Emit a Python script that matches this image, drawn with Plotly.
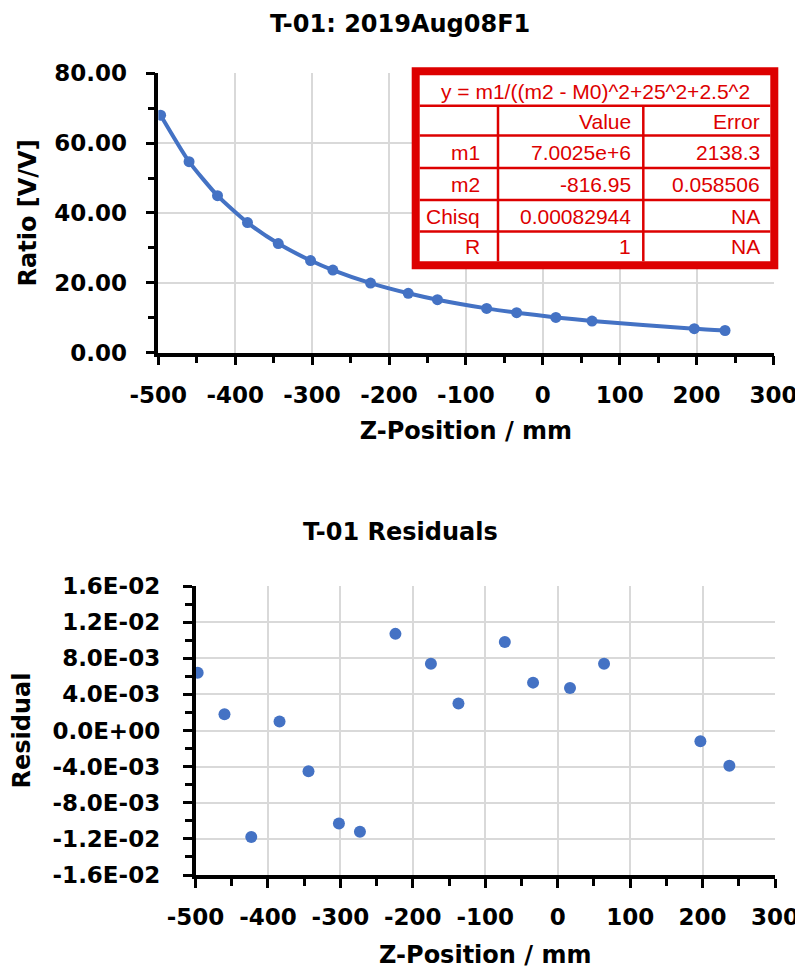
import plotly.graph_objects as go

# ---------------- data ----------------
z_position = [-497, -460, -423, -384, -344, -302, -273, -224, -175, -137, -73, -34, 17, 64, 197, 237]
ratio = [67.99, 54.69, 44.94, 37.23, 31.22, 26.35, 23.62, 19.88, 16.97, 15.13, 12.64, 11.41, 10.06, 9.02, 6.81, 6.30]
residual = [0.0064, 0.0018, -0.0118, 0.0010, -0.0045, -0.0103, -0.0112, 0.0107, 0.0074, 0.0030,
            0.0098, 0.0053, 0.0047, 0.0074, -0.0012, -0.0039]

top_title = "T-01: 2019Aug08F1"
bottom_title = "T-01 Residuals"
x_title = "Z-Position / mm"
top_y_title = "Ratio [V/V]"
bottom_y_title = "Residual"

x_tickvals = [-500, -400, -300, -200, -100, 0, 100, 200, 300]
x_ticktext = ["-500", "-400", "-300", "-200", "-100", "0", "100", "200", "300"]
ratio_tickvals = [0, 20, 40, 60, 80]
ratio_ticktext = ["0.00", "20.00", "40.00", "60.00", "80.00"]
resid_tickvals = [-0.016, -0.012, -0.008, -0.004, 0.0, 0.004, 0.008, 0.012, 0.016]
resid_ticktext = ["-1.6E-02", "-1.2E-02", "-8.0E-03", "-4.0E-03", "0.0E+00",
                  "4.0E-03", "8.0E-03", "1.2E-02", "1.6E-02"]

table_formula = "y = m1/((m2 - M0)^2+25^2+2.5^2"
table_header = ["", "Value", "Error"]
table_params = ["m1", "m2", "Chisq", "R"]
table_values = ["7.0025e+6", "-816.95", "0.00082944", "1"]
table_errors = ["2138.3", "0.058506", "NA", "NA"]

# ---------------- style ----------------
OFF = 8                      # page body margin of the html page
W, H = 803 - OFF, 972 - OFF
BLUE = "#4472C4"
RED = "#dd0000"
GRID = "#d9d9d9"
FONT = "DejaVu Sans"


def fx(px):
    return (px - OFF) / W


def fy(py):
    return 1 - (py - OFF) / H


fig = go.Figure()
fig.add_trace(go.Scatter(
    x=z_position, y=ratio, mode="lines+markers",
    line=dict(color=BLUE, width=4, shape="spline", smoothing=0.6),
    marker=dict(size=11, color=BLUE),
    xaxis="x", yaxis="y", showlegend=False))
fig.add_trace(go.Scatter(
    x=z_position, y=residual, mode="markers",
    marker=dict(size=12, color=BLUE),
    xaxis="x2", yaxis="y2", showlegend=False))

tickfont = dict(family=FONT, size=23, color="black", weight="bold")
titlefont = dict(family=FONT, size=24, color="black", weight="bold")


def axis(**kw):
    d = dict(showline=True, linewidth=3.5, linecolor="black",
             ticks="outside", ticklen=9, tickwidth=3, tickcolor="black",
             showgrid=True, gridcolor=GRID, gridwidth=1.5, zeroline=False,
             tickfont=tickfont, automargin=False, tickangle=0)
    d.update(kw)
    return d


minor_x = dict(dtick=50, tick0=0, ticks="outside", ticklen=7, tickwidth=3, tickcolor="black", showgrid=False)

fig.update_layout(
    width=W, height=H,
    margin=dict(l=0, r=0, t=0, b=0),
    paper_bgcolor="white", plot_bgcolor="white",
    showlegend=False,
    xaxis=axis(domain=[fx(158.3), fx(773.5)], range=[-500, 300],
               tickvals=x_tickvals, ticktext=x_ticktext, ticklabelstandoff=10,
               anchor="y", minor=minor_x,
               title=dict(text=x_title, font=titlefont, standoff=16)),
    yaxis=axis(domain=[fy(352.5), fy(73.3)], range=[0, 80],
               tickvals=ratio_tickvals, ticktext=ratio_ticktext, ticklabelstandoff=14,
               anchor="x",
               minor=dict(dtick=10, tick0=0, ticks="outside", ticklen=7, tickwidth=3, tickcolor="black", showgrid=False),
               title=dict(text=top_y_title, font=titlefont, standoff=12)),
    xaxis2=axis(domain=[fx(195.5), fx(775)], range=[-500, 300],
                tickvals=x_tickvals, ticktext=x_ticktext, ticklabelstandoff=10,
                anchor="y2", minor=minor_x,
                title=dict(text=x_title, font=titlefont, standoff=18)),
    yaxis2=axis(domain=[fy(875), fy(586)], range=[-0.016, 0.016],
                tickvals=resid_tickvals, ticktext=resid_ticktext, ticklabelstandoff=18,
                anchor="x2",
                minor=dict(dtick=0.002, tick0=0, ticks="outside", ticklen=7, tickwidth=3, tickcolor="black", showgrid=False),
                title=dict(text=bottom_y_title, font=titlefont, standoff=20)),
)

annotations = [
    dict(text=top_title, x=fx(400), y=1, xref="paper", yref="paper",
         showarrow=False, font=titlefont, xanchor="center", yanchor="top"),
    dict(text=bottom_title, x=fx(400), y=fy(532), xref="paper", yref="paper",
         showarrow=False, font=titlefont, xanchor="center", yanchor="middle"),
]

# ---------------- fit table ----------------
shapes = []
tx0, tx1, ty0, ty1 = 411.7, 778.3, 67.3, 269.3
bw = 8
shapes.append(dict(type="rect", xref="paper", yref="paper",
                   x0=fx(tx0 + bw / 2), x1=fx(tx1 - bw / 2), y0=fy(ty0 + bw / 2), y1=fy(ty1 - bw / 2),
                   line=dict(color=RED, width=bw), fillcolor="white", layer="above"))
row_lines = [105.8, 135.5, 168, 200, 231.5]
for ry in row_lines:
    shapes.append(dict(type="line", xref="paper", yref="paper",
                       x0=fx(tx0 + bw), x1=fx(tx1 - bw), y0=fy(ry), y1=fy(ry),
                       line=dict(color=RED, width=2.5), layer="above"))
for cx in [498, 643.3]:
    shapes.append(dict(type="line", xref="paper", yref="paper",
                       x0=fx(cx), x1=fx(cx), y0=fy(row_lines[0]), y1=fy(ty1 - bw),
                       line=dict(color=RED, width=2.5), layer="above"))

cell_font = dict(family="Liberation Sans", size=21, color=RED)
annotations.append(dict(text=table_formula, x=fx(595), y=fy(91.5), xref="paper", yref="paper",
                        showarrow=False, font=cell_font, xanchor="center", yanchor="middle"))
col_right = [481.7, 632.7, 761.7]
row_centers = [121, 152, 184.5, 216, 246.5]
table_rows = [table_header] + [[p, v, e] for p, v, e in zip(table_params, table_values, table_errors)]
for r, row in enumerate(table_rows):
    for c, txt in enumerate(row):
        if not txt:
            continue
        annotations.append(dict(text=txt, x=fx(col_right[c]), y=fy(row_centers[r]),
                                xref="paper", yref="paper", showarrow=False, font=cell_font,
                                xanchor="right", yanchor="middle"))

fig.update_layout(shapes=shapes, annotations=annotations)

fig.write_html("out.html")
